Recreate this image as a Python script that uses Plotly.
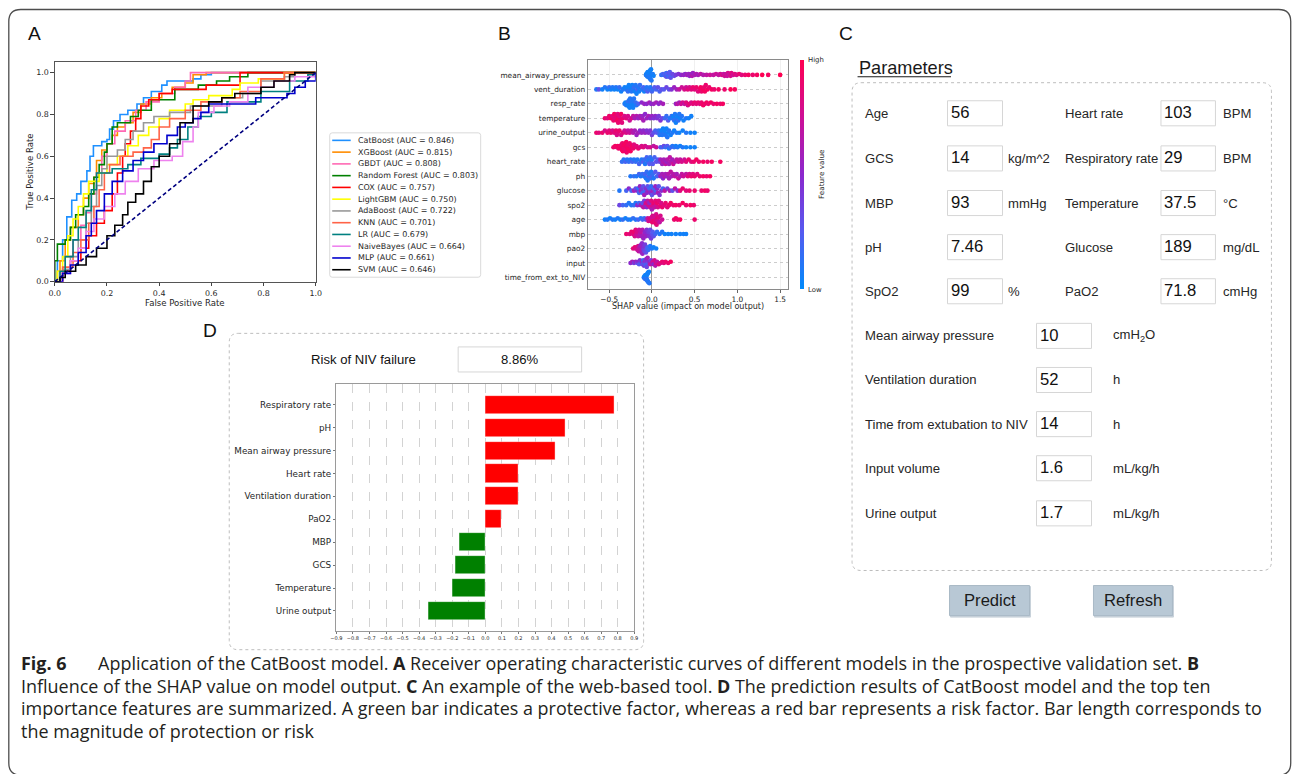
import math
import plotly.graph_objects as go

# Target picture is 1292 x 774.  The page photograph is taken of a slightly taller area
# and fitted back into 1292 x 774, so the canvas is laid out to compensate.
W = 1292
S = 0.991          # fit factor of the photograph
OX = 6.2           # horizontal centring offset of the photograph
HC = round(774 / S)


def X(px):
    return (px - OX) / S / W


def Y(py):
    return 1 - (py / S) / HC


# ------------------------------------------------------------------ data: panel A (ROC)
ROC_MODELS = ["CatBoost", "XGBoost", "GBDT", "Random Forest", "COX", "LightGBM",
              "AdaBoost", "KNN", "LR", "NaiveBayes", "MLP", "SVM"]
ROC_AUC = [0.846, 0.815, 0.808, 0.803, 0.757, 0.750, 0.722, 0.701, 0.679, 0.664, 0.661, 0.646]
ROC_COLORS = ["#1E90FF", "#FF8C00", "#FF69B4", "#008000", "#FF0000", "#FFFF00",
              "#999999", "#FF6347", "#008080", "#EE82EE", "#0000CD", "#000000"]

ROC_CATBOOST = [(0, 0), (0.01, 0.1), (0.03, 0.2), (0.046, 0.31), (0.065, 0.39), (0.084, 0.42), (0.1, 0.48),
                (0.123, 0.53), (0.135, 0.6), (0.148, 0.65), (0.18, 0.67), (0.2, 0.68), (0.21, 0.73), (0.225, 0.77),
                (0.25, 0.8), (0.28, 0.82), (0.315, 0.85), (0.34, 0.88), (0.37, 0.91), (0.41, 0.94), (0.43, 0.96),
                (0.53, 0.97), (0.56, 0.99), (0.6, 1.0), (1.0, 1.0)]
ROC_XGBOOST = [(0, 0), (0.01, 0.05), (0.02, 0.1), (0.04, 0.2), (0.06, 0.26), (0.09, 0.32), (0.11, 0.4),
               (0.13, 0.47), (0.15, 0.5), (0.16, 0.58), (0.18, 0.63), (0.2, 0.66), (0.22, 0.7), (0.24, 0.74),
               (0.27, 0.76), (0.3, 0.81), (0.33, 0.85), (0.37, 0.88), (0.41, 0.9), (0.45, 0.93), (0.5, 0.95),
               (0.53, 0.99), (0.58, 1.0), (1, 1)]
ROC_GBDT = [(0, 0), (0.02, 0.05), (0.04, 0.12), (0.07, 0.2), (0.1, 0.27), (0.12, 0.33), (0.14, 0.42),
            (0.16, 0.52), (0.18, 0.6), (0.2, 0.66), (0.23, 0.72), (0.27, 0.77), (0.31, 0.82), (0.35, 0.86),
            (0.4, 0.9), (0.46, 0.93), (0.5, 0.96), (0.52, 1.0), (1, 1)]
ROC_RF = [(0, 0), (0, 0.1), (0.01, 0.18), (0.04, 0.2), (0.06, 0.26), (0.08, 0.32), (0.11, 0.36), (0.13, 0.42),
          (0.15, 0.5), (0.17, 0.56), (0.19, 0.62), (0.2, 0.66), (0.22, 0.74), (0.24, 0.76), (0.29, 0.79),
          (0.32, 0.82), (0.37, 0.87), (0.46, 0.92), (0.55, 0.94), (0.62, 0.96), (0.67, 0.98), (0.74, 1.0), (1, 1)]
ROC_COX = [(0, 0), (0.03, 0.05), (0.06, 0.1), (0.1, 0.16), (0.13, 0.22), (0.16, 0.28), (0.19, 0.34),
           (0.22, 0.42), (0.24, 0.52), (0.26, 0.6), (0.27, 0.66), (0.29, 0.72), (0.31, 0.78), (0.33, 0.84),
           (0.36, 0.87), (0.4, 0.9), (0.45, 0.92), (0.58, 0.92), (0.58, 0.94), (0.71, 0.94), (0.71, 1.0), (1, 1)]
ROC_LIGHTGBM = [(0, 0), (0.01, 0.05), (0.03, 0.12), (0.05, 0.22), (0.07, 0.3), (0.09, 0.36), (0.11, 0.42),
                (0.13, 0.48), (0.17, 0.52), (0.2, 0.56), (0.24, 0.6), (0.28, 0.65), (0.32, 0.7), (0.36, 0.74),
                (0.4, 0.78), (0.44, 0.82), (0.5, 0.85), (0.53, 0.87), (0.59, 0.89), (0.68, 0.92), (0.71, 0.95),
                (0.78, 0.97), (0.88, 1.0), (1, 1)]
ROC_ADABOOST = [(0, 0), (0.03, 0.06), (0.06, 0.12), (0.09, 0.2), (0.12, 0.28), (0.14, 0.36), (0.16, 0.46),
                (0.18, 0.54), (0.2, 0.6), (0.24, 0.63), (0.27, 0.68), (0.3, 0.72), (0.34, 0.76), (0.38, 0.79),
                (0.44, 0.81), (0.52, 0.84), (0.64, 0.88), (0.72, 0.9), (0.79, 0.96), (0.88, 0.98), (0.92, 1.0), (1, 1)]
ROC_KNN = [(0, 0), (0.03, 0.07), (0.07, 0.14), (0.1, 0.2), (0.13, 0.28), (0.15, 0.36), (0.17, 0.44),
           (0.19, 0.52), (0.21, 0.56), (0.25, 0.6), (0.3, 0.62), (0.34, 0.64), (0.37, 0.68), (0.4, 0.74),
           (0.44, 0.78), (0.5, 0.82), (0.56, 0.86), (0.64, 0.88), (0.71, 0.91), (0.79, 0.97), (0.88, 1.0), (1, 1)]
ROC_LR = [(0, 0), (0.02, 0.05), (0.04, 0.12), (0.07, 0.2), (0.09, 0.26), (0.12, 0.34), (0.14, 0.44),
          (0.16, 0.52), (0.22, 0.54), (0.28, 0.56), (0.33, 0.59), (0.4, 0.61), (0.44, 0.64), (0.47, 0.68),
          (0.51, 0.74), (0.55, 0.79), (0.6, 0.81), (0.66, 0.86), (0.79, 0.91), (0.9, 0.96), (0.97, 0.99), (1, 1)]
ROC_NAIVEBAYES = [(0, 0), (0.03, 0.04), (0.06, 0.1), (0.09, 0.16), (0.12, 0.24), (0.15, 0.3), (0.19, 0.36),
                  (0.23, 0.42), (0.27, 0.48), (0.32, 0.54), (0.38, 0.58), (0.45, 0.6), (0.49, 0.67), (0.53, 0.74),
                  (0.55, 0.81), (0.61, 0.84), (0.67, 0.86), (0.74, 0.93), (0.84, 0.96), (0.92, 0.98), (1, 1.0)]
ROC_MLP = [(0, 0), (0.03, 0.04), (0.06, 0.08), (0.09, 0.14), (0.12, 0.22), (0.14, 0.28), (0.16, 0.34),
           (0.19, 0.42), (0.22, 0.48), (0.26, 0.53), (0.3, 0.58), (0.34, 0.62), (0.38, 0.66), (0.43, 0.7),
           (0.47, 0.74), (0.5, 0.76), (0.53, 0.78), (0.56, 0.81), (0.59, 0.85), (0.68, 0.85), (0.77, 0.88),
           (0.89, 0.9), (0.92, 0.93), (0.96, 0.96), (1.0, 0.96), (1.0, 1.0)]
ROC_SVM = [(0, 0), (0.02, 0.02), (0.04, 0.05), (0.08, 0.08), (0.12, 0.12), (0.16, 0.16), (0.2, 0.22),
           (0.23, 0.27), (0.26, 0.32), (0.28, 0.38), (0.31, 0.42), (0.34, 0.48), (0.37, 0.55), (0.4, 0.6),
           (0.44, 0.66), (0.48, 0.76), (0.53, 0.84), (0.59, 0.86), (0.64, 0.88), (0.69, 0.9), (0.79, 0.93),
           (0.84, 0.96), (0.9, 0.99), (0.92, 1.0), (1, 1)]
ROC_CURVES = [ROC_CATBOOST, ROC_XGBOOST, ROC_GBDT, ROC_RF, ROC_COX, ROC_LIGHTGBM,
              ROC_ADABOOST, ROC_KNN, ROC_LR, ROC_NAIVEBAYES, ROC_MLP, ROC_SVM]
ROC_TICKS = [0.0, 0.2, 0.4, 0.6, 0.8, 1.0]

# ------------------------------------------------------------------ data: panel B (SHAP beeswarm)
# (shap value, normalised feature value)
SHAP_MAP = [(-0.07, .08), (-0.065, .05), (-0.06, .1), (-0.055, .05), (-0.05, .08), (-0.05, .05), (-0.045, .1),
            (-0.04, .05), (-0.04, .08), (-0.035, .05), (-0.03, .1), (-0.03, .05), (-0.03, .08), (-0.025, .05),
            (-0.02, .1), (-0.02, .05), (-0.015, .08), (-0.01, .05), (-0.005, .1), (0.0, .05), (0.01, .08), (0.02, .05),
            (0.11, .15), (0.13, .2), (0.14, .15), (0.15, .25), (0.16, .2), (0.17, .15), (0.17, .3), (0.18, .2),
            (0.18, .25), (0.19, .15), (0.2, .3), (0.2, .2), (0.21, .25), (0.22, .3), (0.23, .2), (0.24, .35),
            (0.26, .3), (0.28, .4), (0.31, .45), (0.34, .5), (0.37, .55), (0.39, .5), (0.41, .6), (0.43, .55),
            (0.44, .5), (0.45, .6), (0.46, .55), (0.47, .65), (0.48, .55), (0.5, .6), (0.52, .65), (0.54, .6),
            (0.57, .7), (0.6, .65), (0.64, .7), (0.68, .75), (0.72, .7), (0.75, .75), (0.78, .7), (0.8, .75),
            (0.82, .8), (0.84, .7), (0.85, .75), (0.86, .8), (0.87, .7), (0.88, .75), (0.89, .8), (0.9, .7),
            (0.91, .75), (0.92, .8), (0.93, .85), (0.95, .75), (0.97, .85), (0.99, .8), (1.02, .9), (1.05, .85),
            (1.09, .9), (1.13, .95), (1.18, .9), (1.23, .95), (1.29, 1), (1.36, .95), (1.5, 1)]
SHAP_VENT = [(-0.65, .1), (-0.62, .3), (-0.58, .05), (-0.55, .1), (-0.52, .05), (-0.5, .15), (-0.48, .05),
             (-0.46, .1), (-0.44, .05), (-0.42, .1), (-0.4, .05), (-0.38, .15), (-0.36, .05), (-0.34, .1),
             (-0.32, .05), (-0.3, .1), (-0.29, .05), (-0.28, .15), (-0.27, .05), (-0.26, .1), (-0.25, .05),
             (-0.24, .1), (-0.23, .05), (-0.22, .1), (-0.21, .15), (-0.2, .05), (-0.19, .1), (-0.18, .05),
             (-0.17, .2), (-0.16, .1), (-0.15, .05), (-0.14, .15), (-0.12, .1), (-0.1, .2), (-0.09, .05),
             (-0.08, .15), (-0.06, .1), (-0.05, .25), (-0.04, .15), (-0.02, .1), (0.0, .2), (0.01, .15),
             (0.03, .25), (0.05, .2), (0.07, .3), (0.09, .2), (0.11, .3), (0.14, .25), (0.17, .35), (0.2, .3),
             (0.23, .45), (0.26, .55), (0.29, .6), (0.32, .7), (0.35, .75), (0.38, .8), (0.4, .75), (0.42, .85),
             (0.44, .8), (0.46, .85), (0.48, .9), (0.5, .85), (0.52, .9), (0.54, .85), (0.56, .9), (0.57, .95),
             (0.58, .9), (0.6, .95), (0.61, .9), (0.62, .95), (0.63, .9), (0.65, .95), (0.67, .9), (0.7, .95),
             (0.73, .9), (0.78, .95), (0.85, .9), (0.92, 1), (0.97, .95)]
SHAP_RESP = [(-0.32, .1), (-0.31, .05), (-0.3, .1), (-0.29, .05), (-0.285, .1), (-0.28, .05), (-0.275, .15),
             (-0.27, .05), (-0.265, .1), (-0.26, .05), (-0.255, .1), (-0.25, .05), (-0.245, .15), (-0.24, .05),
             (-0.235, .1), (-0.23, .05), (-0.225, .1), (-0.22, .05), (-0.21, .1), (-0.2, .05), (-0.19, .15),
             (-0.18, .1), (-0.16, .2), (-0.12, .5), (-0.09, .55), (-0.06, .5), (-0.03, .6), (-0.01, .5),
             (0.02, .55), (0.05, .6), (0.08, .5), (0.1, .55), (0.13, .6), (0.28, .55), (0.3, .7), (0.32, .6),
             (0.34, .75), (0.36, .8), (0.38, .7), (0.4, .85), (0.42, .8), (0.44, .9), (0.46, .8), (0.48, .85),
             (0.5, .9), (0.52, .85), (0.54, .9), (0.56, .85), (0.58, .9), (0.6, .95), (0.62, .9), (0.64, .95),
             (0.66, .9), (0.69, .95), (0.72, .9), (0.76, .95), (0.8, .9), (0.83, .95)]
SHAP_TEMP = [(-0.55, .9), (-0.52, .85), (-0.5, .9), (-0.48, .95), (-0.46, .85), (-0.45, .9), (-0.44, .95),
             (-0.43, .85), (-0.42, .9), (-0.41, .95), (-0.4, .85), (-0.395, .9), (-0.39, .95), (-0.38, .85),
             (-0.37, .9), (-0.36, .95), (-0.35, .85), (-0.34, .9), (-0.32, .8), (-0.3, .85), (-0.28, .8),
             (-0.26, .75), (-0.24, .8), (-0.22, .7), (-0.2, .6), (-0.18, .65), (-0.16, .55), (-0.14, .6),
             (-0.12, .65), (-0.11, .55), (-0.1, .6), (-0.08, .5), (-0.06, .55), (-0.04, .6), (-0.02, .5),
             (0.0, .55), (0.02, .45), (0.04, .5), (0.06, .45), (0.08, .4), (0.1, .45), (0.12, .35), (0.15, .2),
             (0.17, .15), (0.19, .25), (0.21, .1), (0.23, .15), (0.24, .1), (0.25, .05), (0.26, .15), (0.27, .1),
             (0.28, .05), (0.29, .1), (0.3, .05), (0.31, .15), (0.32, .1), (0.33, .05), (0.35, .1), (0.37, .05),
             (0.4, .1), (0.43, .05), (0.46, .05)]
SHAP_URINE = [(-0.65, .9), (-0.62, .85), (-0.58, .9), (-0.55, .8), (-0.52, .9), (-0.5, .85), (-0.48, .9),
              (-0.46, .8), (-0.44, .85), (-0.42, .9), (-0.41, .8), (-0.4, .85), (-0.38, .9), (-0.36, .8),
              (-0.34, .85), (-0.32, .75), (-0.3, .8), (-0.28, .7), (-0.26, .75), (-0.24, .7), (-0.22, .65),
              (-0.2, .6), (-0.18, .55), (-0.16, .6), (-0.14, .5), (-0.12, .55), (-0.1, .5), (-0.08, .55),
              (-0.06, .45), (-0.04, .5), (-0.02, .45), (0.0, .4), (0.02, .3), (0.04, .2), (0.06, .25), (0.08, .15),
              (0.09, .1), (0.1, .15), (0.11, .05), (0.12, .1), (0.13, .05), (0.14, .1), (0.15, .05), (0.16, .1),
              (0.17, .05), (0.18, .1), (0.19, .05), (0.2, .1), (0.22, .05), (0.24, .1), (0.26, .05), (0.29, .1),
              (0.32, .05), (0.36, .05), (0.4, .1), (0.45, .05), (0.5, .05)]
SHAP_GCS = [(-0.45, .9), (-0.43, .95), (-0.41, .9), (-0.4, .95), (-0.39, .9), (-0.38, .95), (-0.37, .9),
            (-0.36, .95), (-0.355, .9), (-0.35, .95), (-0.345, .9), (-0.34, .95), (-0.335, .9), (-0.33, .95),
            (-0.325, .9), (-0.32, .95), (-0.315, .9), (-0.31, .95), (-0.305, .9), (-0.3, .95), (-0.295, .9),
            (-0.29, .95), (-0.285, .9), (-0.28, .95), (-0.275, .9), (-0.27, .95), (-0.26, .9), (-0.25, .95),
            (-0.24, .9), (-0.23, .95), (-0.22, .9), (-0.21, .85), (-0.2, .9), (-0.18, .85), (-0.16, .9),
            (-0.14, .85), (-0.12, .8), (-0.1, .85), (-0.08, .8), (-0.05, .75), (-0.02, .8), (0.02, .7), (0.05, .75),
            (0.1, .3), (0.12, .2), (0.14, .35), (0.16, .15), (0.18, .25), (0.2, .1), (0.22, .2), (0.24, .1),
            (0.26, .15), (0.28, .05), (0.3, .1), (0.33, .05), (0.36, .1), (0.4, .05), (0.45, .05), (0.5, .05)]
SHAP_HR = [(-0.35, .15), (-0.33, .1), (-0.31, .2), (-0.29, .1), (-0.27, .15), (-0.25, .1), (-0.23, .2),
           (-0.21, .1), (-0.19, .15), (-0.17, .1), (-0.15, .2), (-0.13, .15), (-0.12, .1), (-0.1, .25),
           (-0.09, .15), (-0.08, .1), (-0.06, .2), (-0.05, .15), (-0.04, .1), (-0.03, .25), (-0.02, .15),
           (-0.01, .2), (0.0, .1), (0.01, .25), (0.03, .2), (0.05, .3), (0.07, .25), (0.09, .35), (0.1, .6),
           (0.12, .55), (0.13, .65), (0.14, .6), (0.16, .7), (0.17, .55), (0.18, .65), (0.2, .6), (0.21, .7),
           (0.22, .65), (0.24, .6), (0.25, .75), (0.27, .65), (0.29, .7), (0.31, .75), (0.33, .7), (0.35, .8),
           (0.38, .75), (0.4, .85), (0.43, .9), (0.46, .85), (0.49, .9), (0.52, .95), (0.55, .9), (0.6, .95),
           (0.65, .9), (0.7, .95), (0.8, .95)]
SHAP_PH = [(-0.25, .1), (-0.21, .15), (-0.18, .1), (-0.15, .2), (-0.13, .1), (-0.11, .15), (-0.09, .1),
           (-0.08, .2), (-0.07, .1), (-0.06, .15), (-0.05, .1), (-0.04, .2), (-0.03, .1), (-0.02, .15),
           (-0.01, .1), (0.0, .2), (0.01, .15), (0.02, .1), (0.04, .25), (0.06, .2), (0.08, .3), (0.1, .55),
           (0.12, .6), (0.13, .5), (0.15, .65), (0.16, .6), (0.18, .55), (0.19, .65), (0.2, .6), (0.22, .7),
           (0.23, .6), (0.25, .65), (0.27, .7), (0.29, .6), (0.31, .75), (0.33, .65), (0.35, .7), (0.37, .75),
           (0.4, .7), (0.42, .85), (0.44, .8), (0.46, .9), (0.48, .85), (0.5, .9), (0.53, .85), (0.56, .9),
           (0.6, .95), (0.64, .9), (0.68, .95)]
SHAP_GLU = [(-0.38, .1), (-0.3, .2), (-0.27, .5), (-0.24, .2), (-0.21, .6), (-0.19, .3), (-0.17, .5),
            (-0.16, .15), (-0.15, .2), (-0.14, .55), (-0.13, .6), (-0.12, .4), (-0.11, .2), (-0.1, .3),
            (-0.09, .6), (-0.08, .2), (-0.07, .45), (-0.06, .5), (-0.05, .3), (-0.04, .6), (-0.03, .2),
            (-0.02, .5), (-0.01, .15), (0.0, .3), (0.01, .6), (0.02, .2), (0.03, .4), (0.04, .55), (0.05, .2),
            (0.06, .5), (0.07, .6), (0.08, .3), (0.09, .45), (0.11, .5), (0.13, .2), (0.15, .7), (0.18, .4),
            (0.21, .6), (0.24, .3), (0.27, .7), (0.3, .5), (0.33, .85), (0.36, .9), (0.4, .85), (0.44, .9),
            (0.5, .9), (0.58, .9), (0.62, .95), (0.65, .9)]
SHAP_SPO2 = [(-0.38, .35), (-0.34, .2), (-0.3, .15), (-0.27, .1), (-0.24, .1), (-0.21, .15), (-0.19, .1),
             (-0.17, .5), (-0.15, .2), (-0.13, .6), (-0.11, .3), (-0.1, .7), (-0.09, .4), (-0.08, .6), (-0.07, .8),
             (-0.06, .5), (-0.05, .7), (-0.04, .8), (-0.03, .55), (-0.02, .75), (-0.01, .85), (0.0, .6),
             (0.01, .8), (0.02, .9), (0.03, .7), (0.04, .85), (0.05, .75), (0.06, .9), (0.07, .8), (0.08, .85),
             (0.1, .9), (0.11, .8), (0.12, .9), (0.14, .85), (0.16, .9), (0.18, .85), (0.2, .9), (0.22, .95),
             (0.25, .9), (0.28, .95), (0.32, .9), (0.36, .95), (0.4, .9), (0.45, .95), (0.49, .9)]
SHAP_AGE = [(-0.55, .05), (-0.52, .1), (-0.49, .05), (-0.46, .1), (-0.43, .05), (-0.4, .1), (-0.37, .05),
            (-0.34, .15), (-0.31, .05), (-0.28, .1), (-0.25, .05), (-0.22, .15), (-0.19, .1), (-0.16, .2),
            (-0.13, .1), (-0.11, .2), (-0.09, .15), (-0.07, .3), (-0.05, .7), (-0.04, .8), (-0.03, .75),
            (-0.02, .85), (-0.01, .8), (0.0, .75), (0.005, .9), (0.01, .8), (0.015, .85), (0.02, .75),
            (0.025, .9), (0.03, .8), (0.035, .85), (0.04, .75), (0.045, .9), (0.05, .8), (0.055, .85),
            (0.06, .75), (0.065, .9), (0.07, .8), (0.08, .85), (0.09, .7), (0.1, .8), (0.12, .75), (0.26, .9),
            (0.28, .95), (0.3, .9), (0.33, .95), (0.5, .9)]
SHAP_MBP = [(-0.3, .9), (-0.26, .85), (-0.24, .9), (-0.22, .85), (-0.21, .9), (-0.2, .8), (-0.19, .85),
            (-0.18, .75), (-0.17, .8), (-0.16, .7), (-0.15, .75), (-0.14, .65), (-0.13, .7), (-0.12, .6),
            (-0.11, .65), (-0.1, .55), (-0.09, .6), (-0.08, .5), (-0.07, .55), (-0.06, .45), (-0.05, .5),
            (-0.04, .4), (-0.03, .45), (-0.02, .35), (-0.01, .4), (0.0, .3), (0.01, .25), (0.02, .3), (0.04, .2),
            (0.06, .15), (0.09, .1), (0.12, .1), (0.15, .05), (0.19, .05), (0.23, .05), (0.28, .05), (0.33, .05),
            (0.37, .05), (0.4, .05)]
SHAP_PAO2 = [(-0.22, .85), (-0.2, .9), (-0.19, .8), (-0.18, .85), (-0.17, .75), (-0.16, .8), (-0.155, .7),
             (-0.15, .75), (-0.145, .65), (-0.14, .7), (-0.135, .6), (-0.13, .65), (-0.125, .55), (-0.12, .6),
             (-0.115, .5), (-0.11, .55), (-0.105, .45), (-0.1, .5), (-0.095, .4), (-0.09, .45), (-0.085, .35),
             (-0.08, .4), (-0.07, .3), (-0.06, .25), (-0.05, .2), (-0.04, .15), (-0.02, .1), (0.0, .1),
             (0.02, .05), (0.05, .05)]
SHAP_INPUT = [(-0.25, .5), (-0.23, .6), (-0.21, .4), (-0.19, .55), (-0.17, .3), (-0.16, .5), (-0.15, .25),
              (-0.14, .45), (-0.13, .2), (-0.12, .5), (-0.11, .3), (-0.1, .15), (-0.095, .4), (-0.09, .2),
              (-0.085, .55), (-0.08, .3), (-0.075, .45), (-0.07, .2), (-0.065, .5), (-0.06, .35), (-0.05, .6),
              (-0.04, .3), (-0.03, .5), (-0.02, .7), (-0.01, .4), (0.0, .6), (0.01, .75), (0.02, .5), (0.03, .8),
              (0.04, .65), (0.05, .8), (0.06, .7), (0.08, .85), (0.1, .8), (0.12, .9), (0.14, .85), (0.16, .9),
              (0.19, .9), (0.22, .95)]
SHAP_NIV = [(-0.095, .1), (-0.09, .05), (-0.085, .1), (-0.08, .05), (-0.078, .15), (-0.075, .05), (-0.072, .1),
            (-0.07, .05), (-0.068, .1), (-0.065, .05), (-0.062, .15), (-0.06, .05), (-0.058, .1), (-0.055, .05),
            (-0.052, .1), (-0.05, .05), (-0.048, .1), (-0.045, .05), (-0.04, .1), (-0.035, .05), (-0.03, .1)]

SHAP_FEATURES = ["mean_airway_pressure", "vent_duration", "resp_rate", "temperature", "urine_output",
                 "gcs", "heart_rate", "ph", "glucose", "spo2", "age", "mbp", "pao2", "input",
                 "time_from_ext_to_NIV"]
SHAP_POINTS = [SHAP_MAP, SHAP_VENT, SHAP_RESP, SHAP_TEMP, SHAP_URINE, SHAP_GCS, SHAP_HR, SHAP_PH,
               SHAP_GLU, SHAP_SPO2, SHAP_AGE, SHAP_MBP, SHAP_PAO2, SHAP_INPUT, SHAP_NIV]
SHAP_TICKS = [-0.5, 0.0, 0.5, 1.0, 1.5]

# ------------------------------------------------------------------ data: panel C (web form)
FORM_LEFT_LABELS = ["Age", "GCS", "MBP", "pH", "SpO2"]
FORM_LEFT_VALUES = ["56", "14", "93", "7.46", "99"]
FORM_LEFT_UNITS = ["", "kg/m^2", "mmHg", "", "%"]
FORM_RIGHT_LABELS = ["Heart rate", "Respiratory rate", "Temperature", "Glucose", "PaO2"]
FORM_RIGHT_VALUES = ["103", "29", "37.5", "189", "71.8"]
FORM_RIGHT_UNITS = ["BPM", "BPM", "°C", "mg/dL", "cmHg"]
FORM_WIDE_LABELS = ["Mean airway pressure", "Ventilation duration", "Time from extubation to NIV",
                    "Input volume", "Urine output"]
FORM_WIDE_VALUES = ["10", "52", "14", "1.6", "1.7"]
FORM_WIDE_UNITS = ["cmH<sub>2</sub>O", "h", "h", "mL/kg/h", "mL/kg/h"]
BUTTONS = ["Predict", "Refresh"]

# ------------------------------------------------------------------ data: panel D (contributions)
RISK_TEXT = "8.86%"
CONTRIB_FEATURES = ["Respiratory rate", "pH", "Mean airway pressure", "Heart rate", "Ventilation duration",
                    "PaO2", "MBP", "GCS", "Temperature", "Urine output"]
CONTRIB_VALUES = [0.777, 0.484, 0.423, 0.202, 0.200, 0.095, -0.154, -0.180, -0.200, -0.346]
CONTRIB_TICKS = [-0.9, -0.8, -0.7, -0.6, -0.5, -0.4, -0.3, -0.2, -0.1, 0.0,
                 0.1, 0.2, 0.3, 0.4, 0.5, 0.6, 0.7, 0.8, 0.9]

CAPTION_LINES = [
    "<b>Fig. 6</b>\u2003\u2002 Application of the CatBoost model. <b>A</b> Receiver operating characteristic curves of "
    "different models in the prospective validation set. <b>B</b>",
    "Influence of the SHAP value on model output. <b>C</b> An example of the web-based tool. <b>D</b> The prediction "
    "results of CatBoost model and the top ten",
    "importance features are summarized. A green bar indicates a protective factor, whereas a red bar represents a "
    "risk factor. Bar length corresponds to",
    "the magnitude of protection or risk",
]

# ------------------------------------------------------------------ styling helpers
MPL = "DejaVu Sans, Verdana, sans-serif"
WEB = "Liberation Sans, Arial, Helvetica, sans-serif"
CAP = "Open Sans, Noto Sans, sans-serif"
TXT = "#262626"

shapes = []
annotations = []


def rect(x0, y0, x1, y1, line="#d6d6d6", fill="white", width=1):
    shapes.append(dict(type="rect", xref="paper", yref="paper", x0=X(x0), x1=X(x1), y0=Y(y1), y1=Y(y0),
                       line=dict(color=line, width=width), fillcolor=fill, layer="below"))


def rrect(x0, y0, x1, y1, r, line, width=1, dash="solid", fill=None):
    def p(x, y):
        return f"{X(x):.6f},{Y(y):.6f}"
    path = (f"M {p(x0 + r, y0)} L {p(x1 - r, y0)} Q {p(x1, y0)} {p(x1, y0 + r)} "
            f"L {p(x1, y1 - r)} Q {p(x1, y1)} {p(x1 - r, y1)} L {p(x0 + r, y1)} "
            f"Q {p(x0, y1)} {p(x0, y1 - r)} L {p(x0, y0 + r)} Q {p(x0, y0)} {p(x0 + r, y0)} Z")
    d = dict(type="path", xref="paper", yref="paper", path=path,
             line=dict(color=line, width=width, dash=dash), layer="below")
    if fill:
        d["fillcolor"] = fill
    shapes.append(d)


def text(x, y, s, size, family=WEB, color=TXT, xanchor="left", yanchor="middle", angle=0):
    annotations.append(dict(xref="paper", yref="paper", x=X(x), y=Y(y), text=s, showarrow=False,
                            xanchor=xanchor, yanchor=yanchor, textangle=angle,
                            font=dict(size=size / S, family=family, color=color)))


def hline(x0, x1, y, color, width=1, dash="solid"):
    shapes.append(dict(type="line", xref="paper", yref="paper", x0=X(x0), x1=X(x1), y0=Y(y), y1=Y(y),
                       line=dict(color=color, width=width, dash=dash)))


fig = go.Figure()

# ------------------------------------------------------------------ panel A traces
for name, pts, col in zip(ROC_MODELS, ROC_CURVES, ROC_COLORS):
    fig.add_trace(go.Scatter(x=[p[0] for p in pts], y=[p[1] for p in pts], mode="lines", name=name,
                             line=dict(color=col, width=1.6, shape="hv"), xaxis="x", yaxis="y",
                             hoverinfo="skip"))
fig.add_trace(go.Scatter(x=[0, 1], y=[0, 1], mode="lines", line=dict(color="#000080", width=1.6,
                                                                      dash="4px,2.6px"),
                         xaxis="x", yaxis="y", hoverinfo="skip"))

# legend (manual, matplotlib-like)
rrect(330, 132.5, 481, 276.5, 2.5, "#d0d0d0", width=0.8, fill="white")
for i, (name, auc, col) in enumerate(zip(ROC_MODELS, ROC_AUC, ROC_COLORS)):
    yy = 140 + i * 11.73
    hline(332.5, 351, yy, col, width=1.6)
    text(356, yy, f"{name} (AUC = {auc:.3f})", 7.9, family=MPL)


# ------------------------------------------------------------------ panel B traces (beeswarm)
def swarm_offsets(xs, bw=0.045, row_height=0.5):
    xmin = min(xs)
    quant = [round((x - xmin) / bw) for x in xs]
    order = sorted(range(len(xs)), key=lambda i: (quant[i], xs[i]))
    ys = [0.0] * len(xs)
    layer, last = 0, None
    for i in order:
        if quant[i] != last:
            layer = 0
        ys[i] = math.ceil(layer / 2) * ((layer % 2) * 2 - 1)
        layer += 1
        last = quant[i]
    m = max(ys) + 1
    return [y * 0.9 * (row_height / m) for y in ys]


bx, by, bc = [], [], []
n_feat = len(SHAP_FEATURES)
for idx, pts in enumerate(SHAP_POINTS):
    row = n_feat - 1 - idx
    xs = [p[0] for p in pts]
    offs = swarm_offsets(xs)
    bx += xs
    by += [row + o for o in offs]
    bc += [p[1] for p in pts]
fig.add_trace(go.Scatter(x=bx, y=by, mode="markers", xaxis="x2", yaxis="y2", hoverinfo="skip",
                         marker=dict(size=4.6, color=bc, coloraxis="coloraxis", line=dict(width=0))))

# ------------------------------------------------------------------ panel D traces (bars)
n_c = len(CONTRIB_FEATURES)
fig.add_trace(go.Bar(x=CONTRIB_VALUES, y=[n_c - 1 - i for i in range(n_c)], orientation="h", width=0.79,
                     xaxis="x3", yaxis="y3", hoverinfo="skip",
                     marker=dict(color=["#FF0000" if v > 0 else "#008000" for v in CONTRIB_VALUES],
                                 line=dict(color="rgba(255,255,255,0.55)", width=0.7))))

# ------------------------------------------------------------------ outer frame & panel labels
rrect(9, 9.5, 1291.3, 773, 12, "#4d4d4d", width=1.3)
for lab, lx, ly in [("A", 34.5, 33.5), ("B", 505, 33.5), ("C", 846, 33.5), ("D", 210, 330)]:
    text(lx, ly, lab, 19, family=WEB, color="#111", xanchor="center")

# panel A axis titles
text(185.5, 302, "False Positive Rate", 8.5, family=MPL, xanchor="center")
text(30, 171.5, "True Positive Rate", 8.5, family=MPL, xanchor="center", angle=-90)

# panel B texts
text(688, 305.5, "SHAP value (impact on model output)", 8.0, family=MPL, xanchor="center")
text(806, 60, "High", 6.8, family=MPL)
text(806, 289, "Low", 6.8, family=MPL)
text(822, 174, "Feature value", 7.2, family=MPL, xanchor="center", angle=-90)

# ------------------------------------------------------------------ panel C (form)
text(857, 68, "Parameters", 18, family=WEB, color="#1a1a1a")
hline(858, 951.5, 76.5, "#1a1a1a", width=1.1)
rrect(852.5, 82.5, 1272, 569, 9, "#bdbdbd", width=1, dash="dot")

PAIR_Y = [113, 158, 202.5, 246.5, 290.5]
WIDE_Y = [335, 379, 423, 467, 512]
for yy, lab, val, unit in zip(PAIR_Y, FORM_LEFT_LABELS, FORM_LEFT_VALUES, FORM_LEFT_UNITS):
    text(863, yy, lab, 13)
    rect(948, yy - 12.5, 1003, yy + 12.5)
    text(949.5, yy - 0.5, val, 16.5, color="#111")
    if unit:
        text(1006.5, yy, unit, 13)
for yy, lab, val, unit in zip(PAIR_Y, FORM_RIGHT_LABELS, FORM_RIGHT_VALUES, FORM_RIGHT_UNITS):
    text(1064, yy, lab, 13)
    rect(1161.5, yy - 12.5, 1216, yy + 12.5)
    text(1163, yy - 0.5, val, 16.5, color="#111")
    text(1222, yy, unit, 13)
for yy, lab, val, unit in zip(WIDE_Y, FORM_WIDE_LABELS, FORM_WIDE_VALUES, FORM_WIDE_UNITS):
    text(863, yy, lab, 13)
    rect(1037, yy - 12.5, 1092, yy + 12.5)
    text(1038.5, yy - 0.5, val, 16.5, color="#111")
    text(1111.5, yy, unit, 13)

for lab, (x0, x1) in zip(BUTTONS, [(950, 1030), (1094, 1173)]):
    rect(x0 + 1, 585, x1 + 1, 615.5, line="#c8d2da", fill="#c8d2da")
    rect(x0, 584, x1, 614, line="#a9b9c6", fill="#b8c8d5")
    text((x0 + x1) / 2, 599, lab, 16.5, color="#1a1a1a", xanchor="center")

# ------------------------------------------------------------------ panel D (box, risk)
rrect(229.5, 332.5, 644, 648, 9, "#bdbdbd", width=1, dash="dot")
text(364, 359, "Risk of NIV failure", 13, color="#111", xanchor="center")
rect(458.5, 346, 582, 371, line="#d6d6d6")
text(520, 359, RISK_TEXT, 13, color="#111", xanchor="center")

# ------------------------------------------------------------------ caption
for i, line in enumerate(CAPTION_LINES):
    text(19, 661.5 + i * 22.4, line, 17.8, family=CAP, color="#231f20")

# ------------------------------------------------------------------ layout / axes
axis_common = dict(showgrid=False, zeroline=False, showline=True, mirror=True, ticks="outside")

fig.update_layout(
    width=W, height=HC, margin=dict(l=0, r=0, t=0, b=0), showlegend=False,
    paper_bgcolor="white", plot_bgcolor="white",
    shapes=shapes, annotations=annotations, bargap=0,
    coloraxis=dict(cmin=0, cmax=1,
                   colorscale=[[0, "rgb(0,139,251)"], [0.25, "rgb(86,90,240)"], [0.5, "rgb(140,40,205)"],
                               [0.75, "rgb(205,15,150)"], [1, "rgb(255,0,82)"]],
                   colorbar=dict(x=X(800.5), xanchor="left", y=Y(174), yanchor="middle",
                                 len=Y(60) - Y(288), lenmode="fraction", thickness=3.5, thicknessmode="pixels",
                                 outlinewidth=0, showticklabels=False, ticks="", xpad=0, ypad=0)),
    xaxis=dict(domain=[X(55), X(316)], range=[0, 1], anchor="y", tickvals=ROC_TICKS, tickformat=".1f",
               linecolor="#555", linewidth=1, tickcolor="#444", ticklen=3.5, tickwidth=0.8,
               tickfont=dict(size=7.9, family=MPL, color=TXT), **axis_common),
    yaxis=dict(domain=[Y(281), Y(62)], range=[0, 1.05], anchor="x", tickvals=ROC_TICKS, tickformat=".1f",
               linecolor="#555", linewidth=1, tickcolor="#444", ticklen=3.5, tickwidth=0.8,
               tickfont=dict(size=7.9, family=MPL, color=TXT), **axis_common),
    xaxis2=dict(domain=[X(588), X(788)], range=[-0.752, 1.587], anchor="y2", tickvals=SHAP_TICKS,
                tickformat=".1f", showgrid=True, gridcolor="#f0f0f0", gridwidth=0.6,
                zeroline=True, zerolinecolor="#999999", zerolinewidth=1,
                showline=True, mirror=True, linecolor="#8a8a8a", linewidth=0.8,
                ticks="outside", ticklen=3, tickwidth=0.7, tickcolor="#666",
                tickfont=dict(size=7.4, family=MPL, color=TXT)),
    yaxis2=dict(domain=[Y(288), Y(60)], range=[-0.78, 15.02], anchor="x2",
                tickvals=[n_feat - 1 - i for i in range(n_feat)], ticktext=SHAP_FEATURES,
                showgrid=True, gridcolor="#cccccc", gridwidth=0.6, griddash="dot",
                zeroline=False, showline=True, mirror=True, linecolor="#8a8a8a", linewidth=0.8,
                ticks="", tickfont=dict(size=7.4, family=MPL, color=TXT)),
    xaxis3=dict(domain=[X(336.7), X(634.7)], range=[-0.9, 0.9], anchor="y3", tickvals=CONTRIB_TICKS,
                tickformat=".1f", showgrid=True, gridcolor="rgba(175,175,175,0.55)", gridwidth=0.6,
                griddash="dash", layer="above traces", zeroline=False,
                showline=True, mirror=True, linecolor="#9a9a9a", linewidth=1,
                ticks="outside", ticklen=2, tickwidth=0.6, tickcolor="#777",
                tickfont=dict(size=5.05, family=MPL, color=TXT)),
    yaxis3=dict(domain=[Y(629), Y(383)], range=[-0.862, 9.906], anchor="x3",
                tickvals=[n_c - 1 - i for i in range(n_c)], ticktext=CONTRIB_FEATURES,
                showgrid=False, zeroline=False, showline=True, mirror=True, linecolor="#9a9a9a",
                linewidth=1, ticks="outside", ticklen=2.5, tickwidth=0.7, tickcolor="#777",
                tickfont=dict(size=8.8, family=MPL, color=TXT)),
)

POST = ("var s=document.documentElement.style, b=document.body.style;"
        "s.margin='0';s.padding='0';s.overflow='hidden';"
        "b.margin='0';b.padding='0';b.overflow='hidden';")
fig.write_html("out.html", post_script=POST, config={"displayModeBar": False})
